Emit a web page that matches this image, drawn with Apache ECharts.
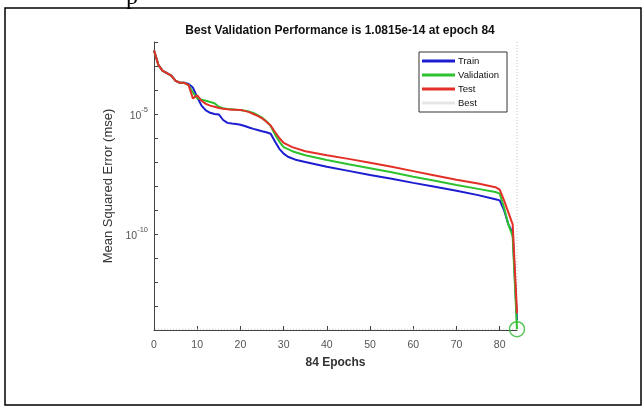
<!DOCTYPE html>
<html>
<head>
<meta charset="utf-8">
<script src="https://cdn.jsdelivr.net/npm/echarts@6/dist/echarts.min.js"></script>
<style>
html,body{margin:0;padding:0;background:#fff;}
#chart{width:644px;height:408px;}
</style>
</head>
<body>
<div id="chart"></div>
<script>
// ---- data ----
const titleText = 'Best Validation Performance is 1.0815e-14 at epoch 84';
const xTicks = [0, 10, 20, 30, 40, 50, 60, 70, 80];
const yLabelExponents = [-5, -10];

const trainEpochs = [0,1,2,3,4,5,6,7,8,9,10,11,12,13,14,15,16,17,18,19,20,21,22,23,24,25,26,27,28,29,30,31,33,35,40,45,50,55,60,65,70,75,79,80,81,82,83,84];
const trainMSE = [4.47e-3,1.12e-3,6.31e-4,5.01e-4,3.98e-4,2.40e-4,2.00e-4,2.00e-4,1.78e-4,1.26e-4,5.01e-5,2.24e-5,1.41e-5,1.12e-5,1.00e-5,9.55e-6,5.62e-6,4.27e-6,3.98e-6,3.80e-6,3.55e-6,3.16e-6,2.75e-6,2.40e-6,2.14e-6,1.91e-6,1.74e-6,1.51e-6,7.08e-7,3.55e-7,2.24e-7,1.66e-7,1.20e-7,1.00e-7,6.31e-8,4.27e-8,2.88e-8,2.00e-8,1.35e-8,9.33e-9,6.31e-9,4.17e-9,2.82e-9,2.51e-9,1.00e-9,2.51e-10,1.12e-10,2.51e-14];

const valEpochs = [0,1,2,3,4,5,6,7,8,9,10,11,12,13,14,15,16,17,18,19,20,21,22,23,24,25,26,27,28,29,30,32,35,40,45,50,55,60,65,70,75,79,80,81,82,83,84];
const valMSE = [4.47e-3,1.12e-3,6.31e-4,5.01e-4,3.98e-4,2.40e-4,2.00e-4,2.00e-4,1.58e-4,7.94e-5,4.47e-5,3.98e-5,3.55e-5,3.16e-5,2.82e-5,2.00e-5,1.74e-5,1.62e-5,1.58e-5,1.51e-5,1.48e-5,1.38e-5,1.26e-5,1.10e-5,8.91e-6,7.08e-6,5.01e-6,3.16e-6,1.41e-6,7.08e-7,4.17e-7,2.82e-7,1.91e-7,1.20e-7,8.13e-8,5.50e-8,3.72e-8,2.45e-8,1.66e-8,1.10e-8,7.59e-9,5.62e-9,4.79e-9,1.26e-9,2.51e-10,7.94e-11,1.0815e-14];

const testEpochs = [0,1,2,3,4,5,6,7,8,9,10,11,12,13,14,15,16,17,18,19,20,21,22,23,24,25,26,27,28,29,30,32,35,40,45,50,55,60,65,70,75,79,80,81,82,83,84];
const testMSE = [4.47e-3,1.12e-3,6.31e-4,5.01e-4,3.98e-4,2.40e-4,2.00e-4,2.00e-4,1.58e-4,4.47e-5,6.03e-5,3.55e-5,2.63e-5,2.24e-5,2.00e-5,1.78e-5,1.66e-5,1.58e-5,1.51e-5,1.51e-5,1.48e-5,1.35e-5,1.20e-5,1.00e-5,8.32e-6,6.61e-6,4.79e-6,3.31e-6,1.78e-6,1.00e-6,6.31e-7,4.17e-7,2.82e-7,1.91e-7,1.35e-7,9.33e-8,6.31e-8,4.17e-8,2.75e-8,1.82e-8,1.26e-8,8.91e-9,7.08e-9,2.51e-9,7.94e-10,2.51e-10,5.01e-14];

const bestEpoch = 84;
const bestValue = 1.0815e-14;
const yMin = 1e-14, yMax = 1e-2;
const xMax = 84;

const zip = (xs, ys) => xs.map((x, i) => [x, ys[i]]);

const chart = echarts.init(document.getElementById('chart'), null, {renderer: 'canvas'});
const FONT = 'Liberation Sans, Arial, sans-serif';

chart.setOption({
  animation: false,
  backgroundColor: '#ffffff',
  textStyle: {fontFamily: FONT},
  title: {
    text: titleText,
    left: 335, top: 20, textAlign: 'center',
    textStyle: {fontSize: 12, fontWeight: 'bold', color: '#111', fontFamily: FONT}
  },
  grid: {left: 154, top: 42, right: 127, bottom: 78, containLabel: false},
  legend: {
    orient: 'vertical',
    left: 419, top: 52,
    backgroundColor: '#fff',
    borderColor: '#333', borderWidth: 1, borderRadius: 0,
    padding: [4, 8, 4, 3],
    itemGap: 4,
    itemWidth: 33, itemHeight: 3,
    icon: 'rect',
    textStyle: {fontSize: 9.5, color: '#111', fontFamily: FONT, padding: [0,0,0,-2]},
    data: [
      {name: 'Train'},
      {name: 'Validation'},
      {name: 'Test'},
      {name: 'Best', itemStyle: {color: '#e6e6e6'}}
    ]
  },
  xAxis: {
    type: 'value', min: 0, max: xMax,
    name: '84 Epochs', nameLocation: 'middle', nameGap: 27,
    nameTextStyle: {fontSize: 12, fontWeight: 'bold', color: '#333', fontFamily: FONT},
    axisLine: {show: true, lineStyle: {color: '#444', width: 1}},
    axisTick: {show: true, inside: true, length: 4, customValues: xTicks, lineStyle: {color: '#444'}},
    axisLabel: {customValues: xTicks, fontSize: 10.5, color: '#555', margin: 10, fontFamily: FONT},
    splitLine: {show: false}
  },
  yAxis: {
    type: 'log', logBase: 10, min: yMin, max: yMax, interval: 1,
    name: 'Mean Squared Error (mse)', nameLocation: 'middle', nameRotate: 90, nameGap: 32,
    nameTextStyle: {fontSize: 13, color: '#333', fontFamily: FONT},
    axisLine: {show: true, lineStyle: {color: '#444', width: 1}},
    axisTick: {show: true, inside: true, length: 4, lineStyle: {color: '#444'}},
    axisLabel: {
      margin: 6, color: '#555', fontFamily: FONT,
      formatter: function (v) {
        const e = Math.round(Math.log10(v));
        if (yLabelExponents.indexOf(e) >= 0) return '{b|10}{s|' + e + '}';
        return '';
      },
      rich: {
        b: {fontSize: 10.5, color: '#555', fontFamily: FONT, verticalAlign: 'bottom', lineHeight: 16},
        s: {fontSize: 7.5, color: '#555', fontFamily: FONT, verticalAlign: 'top', lineHeight: 16}
      }
    },
    splitLine: {show: false},
    minorTick: {show: false}
  },
  series: [
    {
      name: 'Best', type: 'line',
      data: [[bestEpoch, yMax], [bestEpoch, bestValue], [0, bestValue]],
      showSymbol: false, silent: true,
      lineStyle: {color: '#c8c8c8', width: 1, type: [1, 2]},
      itemStyle: {color: '#e6e6e6'},
      z: 1
    },
    {
      name: 'Train', type: 'line', data: zip(trainEpochs, trainMSE),
      showSymbol: false, smooth: false,
      lineStyle: {color: '#1c1cd0', width: 2}, itemStyle: {color: '#1c1cd0'}, z: 2
    },
    {
      name: 'Validation', type: 'line', data: zip(valEpochs, valMSE),
      showSymbol: false,
      lineStyle: {color: '#2fc22f', width: 2}, itemStyle: {color: '#2fc22f'}, z: 3
    },
    {
      name: 'Test', type: 'line', data: zip(testEpochs, testMSE),
      showSymbol: false,
      lineStyle: {color: '#e23028', width: 2}, itemStyle: {color: '#e23028'}, z: 4
    },
    {
      name: 'BestPoint', type: 'scatter', data: [[bestEpoch, bestValue]],
      symbol: 'circle', symbolSize: 15, clip: false,
      itemStyle: {color: 'rgba(0,0,0,0)', borderColor: '#2fb52f', borderWidth: 1.5},
      z: 5, silent: true
    }
  ],
  graphic: [
    {type: 'rect', shape: {x: 5, y: 8, width: 636, height: 397},
     style: {fill: 'none', stroke: '#000', lineWidth: 1.5}, silent: true, z: 100},
    {type: 'text', left: 126, top: -14,
     style: {text: 'p', fontSize: 24, fontFamily: 'Liberation Serif, serif', fill: '#000'}, silent: true}
  ]
});
</script>
</body>
</html>
